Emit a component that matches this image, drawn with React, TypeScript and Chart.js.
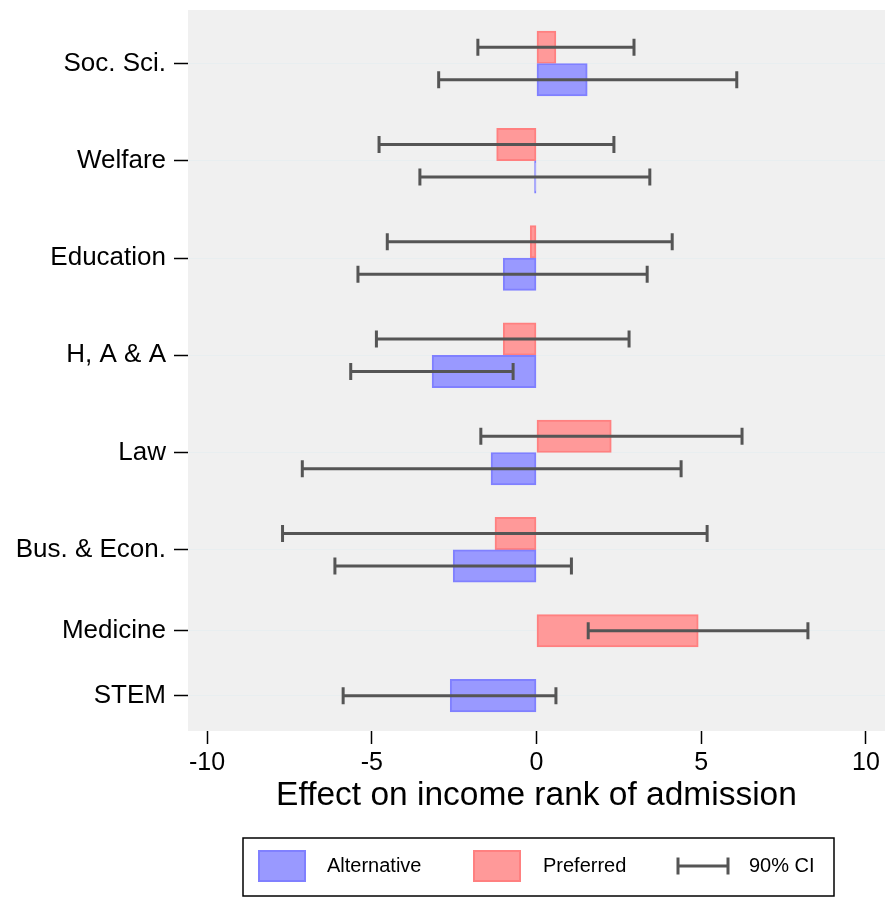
import { useEffect, useRef } from "react";
import { Chart, registerables } from "chart.js";

Chart.register(...registerables);

// ---- data (top-to-bottom order as displayed) ----
const categories = ["Soc. Sci.", "Welfare", "Education", "H, A & A", "Law", "Bus. & Econ.", "Medicine", "STEM"];
const alternative: (number | null)[] = [1.54, -0.06, -1.01, -3.17, -1.38, -2.53, null, -2.62];
const alternativeLo: (number | null)[] = [-2.97, -3.54, -5.42, -5.64, -7.11, -6.12, null, -5.87];
const alternativeHi: (number | null)[] = [6.08, 3.44, 3.36, -0.71, 4.39, 1.06, null, 0.59];
const preferred: (number | null)[] = [0.59, -1.21, -0.19, -1.01, 2.27, -1.26, 4.91, null];
const preferredLo: (number | null)[] = [-1.78, -4.78, -4.53, -4.86, -1.69, -7.71, 1.57, null];
const preferredHi: (number | null)[] = [2.96, 2.35, 4.12, 2.81, 6.24, 5.18, 8.24, null];
const xTicks = [-10, -5, 0, 5, 10];
const seriesLabels = ["Alternative", "Preferred"];
const ciLabel = "90% CI";
const xTitle = "Effect on income rank of admission";

const FONT = "'Liberation Sans', Arial, Helvetica, sans-serif";
const ALT_FILL = "#9999ff";
const ALT_EDGE = "#8080ff";
const PREF_FILL = "#ff9999";
const PREF_EDGE = "#ff8080";
const CI_COLOR = "#555555";

// Stack bars of each category (1 unit per bar, 1 unit gap) from the bottom up
function layoutCategories() {
  const n = categories.length;
  const center: number[] = new Array(n).fill(0);
  const altPos: (number | null)[] = new Array(n).fill(null);
  const prefPos: (number | null)[] = new Array(n).fill(null);
  let cursor = 0.5;
  for (let i = n - 1; i >= 0; i--) {
    const hasAlt = alternative[i] !== null;
    const hasPref = preferred[i] !== null;
    const count = (hasAlt ? 1 : 0) + (hasPref ? 1 : 0);
    center[i] = cursor + count / 2;
    let c = cursor;
    if (hasAlt) { altPos[i] = c + 0.5; c += 1; }
    if (hasPref) { prefPos[i] = c + 0.5; c += 1; }
    cursor += count + 1;
  }
  return { center, altPos, prefPos };
}

export default function App() {
  const ref = useRef<HTMLCanvasElement | null>(null);

  useEffect(() => {
    if (!ref.current) return;
    const { center, altPos, prefPos } = layoutCategories();

    const altData: { x: number; y: number }[] = [];
    const prefData: { x: number; y: number }[] = [];
    categories.forEach((_, i) => {
      if (alternative[i] !== null) altData.push({ x: alternative[i] as number, y: altPos[i] as number });
      if (preferred[i] !== null) prefData.push({ x: preferred[i] as number, y: prefPos[i] as number });
    });

    const yTickValues = [...center].sort((a, b) => a - b);
    const labelFor = (v: number) => {
      const idx = center.findIndex((c) => Math.abs(c - v) < 1e-6);
      return idx >= 0 ? categories[idx] : "";
    };

    const background = {
      id: "plotBackground",
      beforeDraw(chart: any) {
        const { ctx, chartArea } = chart;
        ctx.save();
        ctx.fillStyle = "#ffffff";
        ctx.fillRect(0, 0, chart.width, chart.height);
        ctx.fillStyle = "#f0f0f0";
        ctx.fillRect(chartArea.left, chartArea.top, chartArea.right - chartArea.left, chartArea.bottom - chartArea.top);
        ctx.restore();
      },
    };

    const errorBars = {
      id: "errorBars",
      afterDatasetsDraw(chart: any) {
        const { ctx } = chart;
        const xs = chart.scales.x;
        const ys = chart.scales.y;
        ctx.save();
        ctx.strokeStyle = CI_COLOR;
        ctx.lineWidth = 3;
        const draw = (pos: number, lo: number, hi: number) => {
          const py = ys.getPixelForValue(pos);
          const x1 = xs.getPixelForValue(lo);
          const x2 = xs.getPixelForValue(hi);
          ctx.beginPath();
          ctx.moveTo(x1, py);
          ctx.lineTo(x2, py);
          ctx.moveTo(x1, py - 8.5);
          ctx.lineTo(x1, py + 8.5);
          ctx.moveTo(x2, py - 8.5);
          ctx.lineTo(x2, py + 8.5);
          ctx.stroke();
        };
        categories.forEach((_, i) => {
          if (altPos[i] !== null && alternativeLo[i] !== null)
            draw(altPos[i] as number, alternativeLo[i] as number, alternativeHi[i] as number);
          if (prefPos[i] !== null && preferredLo[i] !== null)
            draw(prefPos[i] as number, preferredLo[i] as number, preferredHi[i] as number);
        });
        ctx.restore();
      },
    };

    const legendBox = {
      id: "legendBox",
      afterDraw(chart: any) {
        const { ctx } = chart;
        const ds = chart.data.datasets;
        ctx.save();
        ctx.strokeStyle = "#000";
        ctx.lineWidth = 1.5;
        ctx.strokeRect(243, 838, 591, 58);
        const cy = 866;
        const swatch = (x: number, fill: string, edge: string) => {
          ctx.fillStyle = fill;
          ctx.fillRect(x, cy - 16, 48, 32);
          ctx.strokeStyle = edge;
          ctx.lineWidth = 2;
          ctx.strokeRect(x + 1, cy - 15, 46, 30);
        };
        swatch(258, ds[0].backgroundColor, ds[0].borderColor);
        swatch(473, ds[1].backgroundColor, ds[1].borderColor);
        ctx.strokeStyle = CI_COLOR;
        ctx.lineWidth = 3;
        ctx.beginPath();
        ctx.moveTo(678, cy);
        ctx.lineTo(728, cy);
        ctx.moveTo(678, cy - 8.5);
        ctx.lineTo(678, cy + 8.5);
        ctx.moveTo(728, cy - 8.5);
        ctx.lineTo(728, cy + 8.5);
        ctx.stroke();
        ctx.fillStyle = "#000";
        ctx.font = `20px ${FONT}`;
        ctx.textBaseline = "middle";
        ctx.textAlign = "left";
        ctx.fillText(ds[0].label, 327, cy);
        ctx.fillText(ds[1].label, 543, cy);
        ctx.fillText(ciLabel, 749, cy);
        ctx.restore();
      },
    };

    Chart.defaults.font.family = FONT;
    Chart.defaults.color = "#000";

    const chart = new Chart(ref.current, {
      type: "bar",
      data: {
        datasets: [
          {
            label: seriesLabels[0],
            data: altData,
            backgroundColor: ALT_FILL,
            borderColor: ALT_EDGE,
            borderWidth: 2,
            borderSkipped: false,
            grouped: false,
            categoryPercentage: 1,
            barPercentage: 1,
          } as any,
          {
            label: seriesLabels[1],
            data: prefData,
            backgroundColor: PREF_FILL,
            borderColor: PREF_EDGE,
            borderWidth: 2,
            borderSkipped: false,
            grouped: false,
            categoryPercentage: 1,
            barPercentage: 1,
          } as any,
        ],
      },
      options: {
        indexAxis: "y",
        animation: false,
        responsive: false,
        devicePixelRatio: 1,
        layout: { padding: { left: 8, top: 10, right: 0, bottom: 81 } },
        plugins: {
          legend: { display: false },
          tooltip: { enabled: false },
        },
        scales: {
          x: {
            type: "linear",
            min: -10.58,
            max: 10.58,
            offset: false,
            afterBuildTicks: (s: any) => {
              s.ticks = xTicks.map((v) => ({ value: v }));
            },
            afterFit: (s: any) => {
              s.height = 86;
            },
            ticks: {
              font: { size: 25 },
              color: "#000",
              padding: 4,
              maxRotation: 0,
              autoSkip: false,
            },
            grid: {
              offset: false,
              drawOnChartArea: false,
              drawTicks: true,
              tickLength: 13,
              tickColor: "#000",
              tickWidth: 1.5,
            },
            border: { display: false },
            title: {
              display: true,
              text: xTitle,
              font: { size: 33.5 },
              color: "#000",
              padding: { top: 0, bottom: 1 },
            },
          },
          y: {
            type: "linear",
            min: -0.09,
            max: 22.15,
            offset: false,
            afterBuildTicks: (s: any) => {
              s.ticks = yTickValues.map((v) => ({ value: v }));
            },
            afterFit: (s: any) => {
              s.width = 180;
              s.paddingTop = 0;
              s.paddingBottom = 0;
            },
            ticks: {
              callback: (v: any) => labelFor(Number(v)),
              font: { size: 26 },
              color: "#000",
              padding: 8,
              autoSkip: false,
            },
            grid: {
              offset: false,
              color: "#e8eef0",
              lineWidth: 1,
              tickColor: "#000",
              tickWidth: 1.5,
              tickLength: 14,
            },
            border: { display: false },
          },
        },
      } as any,
      plugins: [background, errorBars, legendBox],
    });

    return () => chart.destroy();
  }, []);

  return (
    <div style={{ position: "fixed", left: 0, top: 0, width: 885, height: 898 }}>
      <canvas ref={ref} width={885} height={898} style={{ display: "block", width: 885, height: 898 }} />
    </div>
  );
}
